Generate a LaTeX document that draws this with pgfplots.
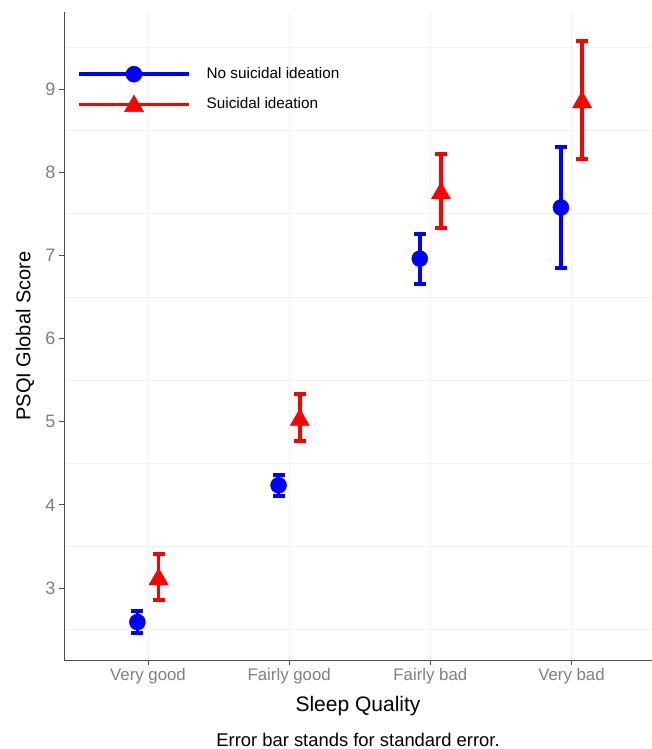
\documentclass[border=0pt]{standalone}
\usepackage{pgfplots}
\pgfplotsset{compat=1.18}
\usepackage{fontspec}
\setmainfont{Liberation Sans}

\definecolor{axisgray}{HTML}{4D4D4D}
\definecolor{ticktext}{HTML}{7F7F7F}
\definecolor{gridgray}{HTML}{F2F2F2}

% dodged x position, mean, standard error
\pgfplotstableread{
x      y      e
0.925  2.59   0.13
1.925  4.235  0.125
2.925  6.96   0.30
3.925  7.575  0.725
}\nosi
\pgfplotstableread{
x      y      e
1.075  3.135  0.275
2.075  5.05   0.28
3.075  7.775  0.445
4.075  8.87   0.71
}\si

\begin{document}
\begin{tikzpicture}
\begin{axis}[
    scale only axis,
    width=588pt, height=648pt,
    xmin=0.405, xmax=4.57,
    ymin=2.134, ymax=9.926,
    axis lines=left,
    axis line style={-, draw=axisgray, line width=0.9pt},
    xtick={1,2,3,4},
    xticklabels={Very good, Fairly good, Fairly bad, Very bad},
    ytick={3,4,5,6,7,8,9},
    minor ytick={2.5,3.5,4.5,5.5,6.5,7.5,8.5,9.5},
    xmajorgrids, yminorgrids,
    major grid style={draw=gridgray, line width=0.8pt},
    minor grid style={draw=gridgray, line width=0.8pt},
    tick align=outside,
    major tick length=5pt,
    minor tick length=0pt,
    tick style={draw=axisgray, line width=0.8pt},
    xticklabel style={font=\fontsize{16.8}{19}\selectfont, text=ticktext},
    yticklabel style={font=\fontsize{18}{20}\selectfont, text=ticktext},
    /pgf/number format/assume math mode=true,
    xlabel={Sleep Quality},
    ylabel={PSQI Global Score},
    xlabel style={at={(axis description cs:0.5,0)}, anchor=center, yshift=-46pt,
        font=\fontsize{21}{24}\selectfont},
    ylabel style={at={(axis description cs:-0.0663,0.5)}, anchor=center,
        font=\fontsize{20}{24}\selectfont},
    legend style={at={(axis description cs:0,1)}, anchor=north west,
        xshift=10pt, yshift=-52pt, draw=none, fill=none,
        font=\fontsize{15.3}{18}\selectfont,
        nodes={inner sep=0pt, text height=11pt, text depth=3pt},
        row sep=13pt, column sep=16pt},
    legend cell align=left,
    legend image code/.code={
        \draw[#1, mark=none] (0pt,0pt) -- (110pt,0pt);
        \draw[#1] plot coordinates {(55pt,0pt)};
    },
    clip=false,
]
\addlegendimage{blue, line width=3.5pt, mark=*, mark size=8pt, mark options={line width=0.5pt}}
\addlegendentry{No suicidal ideation}
\addlegendimage{red, line width=3.5pt, mark=triangle*, mark size=11pt, mark options={line width=0.5pt, yshift=-1.5pt}}
\addlegendentry{Suicidal ideation}

\addplot[forget plot, blue, only marks, mark=*, mark size=8pt, mark options={line width=0.5pt},
    error bars/.cd, y dir=both, y explicit,
    error bar style={line width=3.5pt, blue},
    error mark options={rotate=90, line width=3.8pt, mark size=6pt, blue}]
    table[x=x, y=y, y error=e] {\nosi};
\addplot[forget plot, red, only marks, mark=triangle*, mark size=11pt, mark options={line width=0.5pt, yshift=-2.5pt},
    error bars/.cd, y dir=both, y explicit,
    error bar style={line width=3.5pt, red},
    error mark options={rotate=90, line width=3.8pt, mark size=6pt, red, yshift=0pt}]
    table[x=x, y=y, y error=e] {\si};

\node[font=\fontsize{18.4}{22}\selectfont, anchor=center]
    at (axis description cs:0.5,0) [yshift=-80pt] {Error bar stands for standard error.};
\end{axis}
\pgfresetboundingbox
\path (-64pt,-89pt) rectangle (588pt,660pt);
\end{tikzpicture}
\end{document}
